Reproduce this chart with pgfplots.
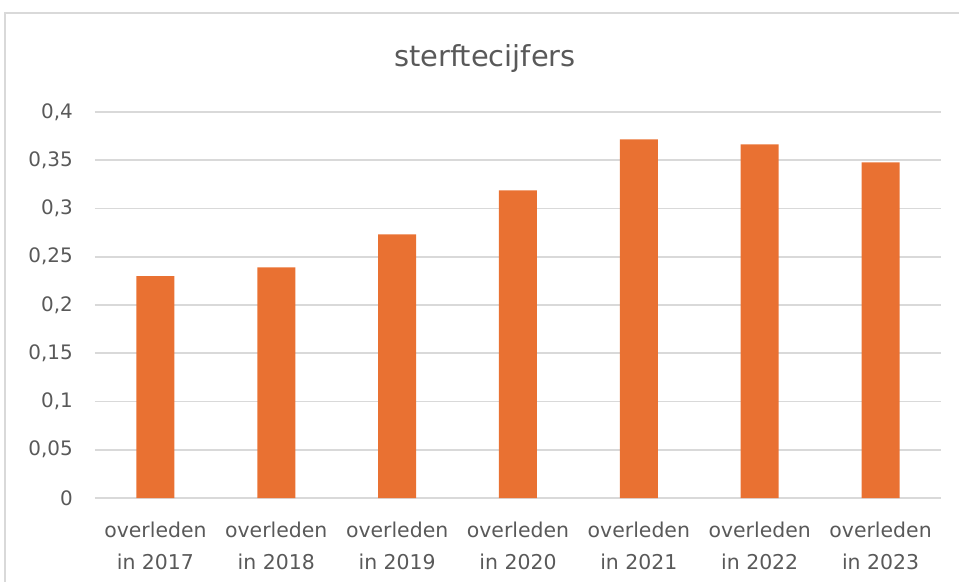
\documentclass[border=0pt]{standalone}
\usepackage{pgfplots}
\pgfplotsset{compat=1.18}
\usepackage{fontspec}
\setmainfont{DejaVu Sans}
\definecolor{barorange}{HTML}{E97132}
\definecolor{txtgray}{HTML}{595959}
\definecolor{gridgray}{HTML}{D9D9D9}
\begin{document}
\begin{tikzpicture}
\begin{axis}[
  scale only axis,
  width=846bp, height=386bp,
  xmin=-0.5, xmax=6.5, ymin=0, ymax=0.4,
  axis line style={draw=none},
  major tick length=0pt,
  ytick={0,0.05,0.1,0.15,0.2,0.25,0.3,0.35,0.4},
  ymajorgrids,
  grid style={gridgray, line width=1.8bp},
  /pgf/number format/.cd, use comma, fixed, precision=2, assume math mode=true,
  /pgfplots/.cd,
  yticklabel style={inner sep=0pt, xshift=-22bp, text=txtgray, font=\fontsize{20}{22}\selectfont},
  xtick={0,1,2,3,4,5,6},
  xticklabels={{overleden\\in 2017},{overleden\\in 2018},{overleden\\in 2019},{overleden\\in 2020},{overleden\\in 2021},{overleden\\in 2022},{overleden\\in 2023}},
  xticklabel style={inner sep=0pt, yshift=-24bp, align=center, text=txtgray, font=\fontsize{20.5}{32}\selectfont},
  ybar, bar width=38bp,
]
\addplot[fill=barorange, draw=none] coordinates {
  (0,0.2300) (1,0.2390) (2,0.2733) (3,0.3188) (4,0.3716) (5,0.3665) (6,0.3478)
};
\end{axis}
\draw[gridgray, line width=1.5bp] ([shift={(-90bp,-200bp)}]current axis.south west) rectangle ([shift={(1000bp,485bp)}]current axis.south west);
\node[anchor=base, inner sep=0pt, text=txtgray, font=\fontsize{29}{32}\selectfont] at ([shift={(390bp,431bp)}]current axis.south west) {sterftecijfers};
\pgfresetboundingbox
\path[use as bounding box] ([shift={(-95bp,-84bp)}]current axis.south west) rectangle ++(959bp,582bp);
\end{tikzpicture}
\end{document}
